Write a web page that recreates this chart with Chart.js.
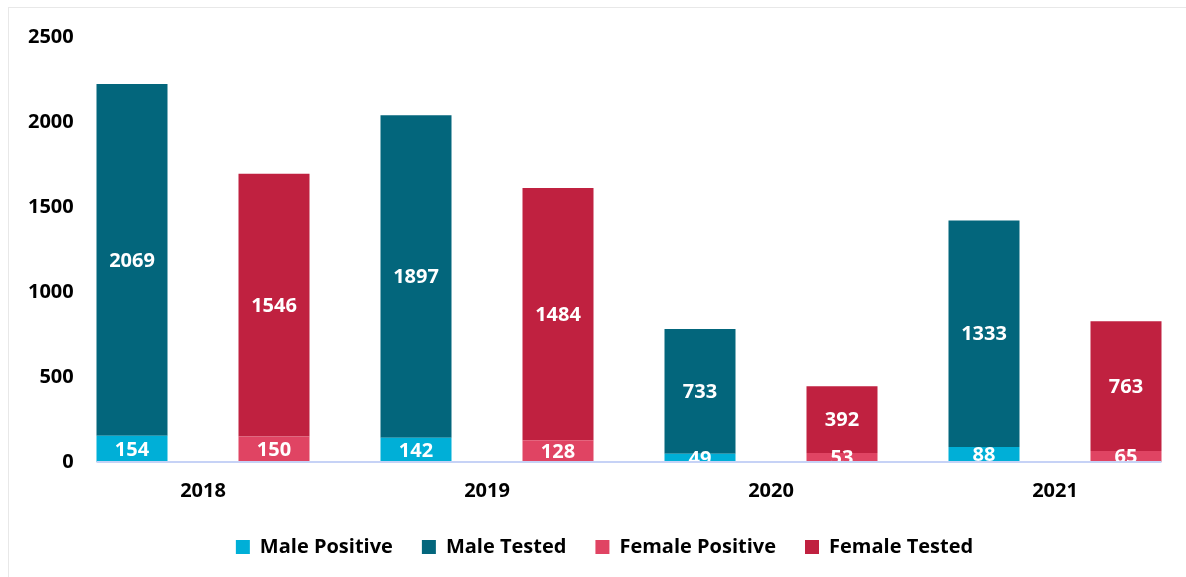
<!DOCTYPE html>
<html>
<head>
<meta charset="utf-8">
<script src="https://cdn.jsdelivr.net/npm/chart.js@4"></script>
<style>
  html, body { margin: 0; padding: 0; background: #fff; overflow: hidden; }
  #frame { position: absolute; left: 8px; top: 7px; width: 1400px; height: 800px; border: 1px solid #e8e8e8; }
  #wrap { position: absolute; left: 0; top: 0; width: 1200px; height: 577px; }
</style>
</head>
<body>
<div id="frame"></div>
<div id="wrap"><canvas id="myChart"></canvas></div>
<script>
let years = ["2018", "2019", "2020", "2021"];

let malePositive = [154, 142, 49, 88];
let maleTested = [2069, 1897, 733, 1333];
let femalePositive = [150, 128, 53, 65];
let femaleTested = [1546, 1484, 392, 763];

let yTicks = [0, 500, 1000, 1500, 2000, 2500];

let fontName = "'Open Sans', 'Liberation Sans', sans-serif";

let ctx = document.getElementById('myChart');

// values written in the middle of each bar piece
let barLabels = {
    id: 'barLabels',
    afterDatasetsDraw(chart) {
        let c = chart.ctx;
        let area = chart.chartArea;
        c.save();
        c.beginPath();
        c.rect(area.left, area.top, area.right - area.left, area.bottom - area.top);
        c.clip();
        c.fillStyle = '#ffffff';
        c.font = 'bold 20px ' + fontName;
        c.textAlign = 'center';
        c.textBaseline = 'middle';
        chart.data.datasets.forEach((ds, i) => {
            let meta = chart.getDatasetMeta(i);
            meta.data.forEach((bar, j) => {
                c.fillText(ds.data[j], bar.x, (bar.y + bar.base) / 2 + 1);
            });
        });
        c.restore();
    }
}

// zero line, from the first bar to the last bar
let zeroLine = {
    id: 'zeroLine',
    afterDatasetsDraw(chart) {
        let c = chart.ctx;
        let first = chart.getDatasetMeta(0).data[0];
        let lastMeta = chart.getDatasetMeta(chart.data.datasets.length - 1).data;
        let last = lastMeta[lastMeta.length - 1];
        let y = chart.scales.y.getPixelForValue(0);
        c.save();
        c.strokeStyle = '#c6d2f6';
        c.lineWidth = 2;
        c.beginPath();
        c.moveTo(first.x - first.width / 2, y);
        c.lineTo(last.x + last.width / 2, y);
        c.stroke();
        c.restore();
    }
}

makeChart()

function makeChart() {
    const myChart = new Chart(ctx, {
        type: 'bar',
        data: {
            labels: years,
            datasets: [
                { label: 'Male Positive', data: malePositive, stack: 'male', backgroundColor: '#00afd7' },
                { label: 'Male Tested', data: maleTested, stack: 'male', backgroundColor: '#03667c' },
                { label: 'Female Positive', data: femalePositive, stack: 'female', backgroundColor: '#e04463' },
                { label: 'Female Tested', data: femaleTested, stack: 'female', backgroundColor: '#c02140' }
            ]
        },
        plugins: [barLabels, zeroLine],
        options: {
            responsive: true,
            maintainAspectRatio: false,
            animation: false,
            barPercentage: 0.5,
            categoryPercentage: 1.0,
            layout: {
                padding: { left: 12, right: 3, top: 37, bottom: 10 }
            },
            plugins: {
                legend: {
                    position: 'bottom',
                    labels: {
                        boxWidth: 14,
                        boxHeight: 14,
                        padding: 29,
                        color: '#000',
                        font: { family: fontName, size: 20, weight: 'bold' }
                    }
                },
                tooltip: { enabled: false }
            },
            scales: {
                x: {
                    stacked: true,
                    grid: { display: false },
                    border: { display: false },
                    afterFit(scale) { scale.height = 46; },
                    ticks: {
                        color: '#000',
                        padding: 9,
                        font: { family: fontName, size: 20, weight: 'bold' }
                    }
                },
                y: {
                    stacked: true,
                    min: yTicks[0],
                    max: yTicks[yTicks.length - 1],
                    grid: { display: false, drawTicks: false },
                    border: { display: false },
                    afterFit(scale) { scale.width = 49; },
                    afterBuildTicks(scale) { scale.ticks = yTicks.map(v => ({ value: v })); },
                    ticks: {
                        color: '#000',
                        mirror: true,
                        crossAlign: 'far',
                        padding: -33,
                        callback: v => String(v),
                        font: { family: fontName, size: 20, weight: 'bold' }
                    }
                }
            }
        },
    });
}
</script>
</body>
</html>
